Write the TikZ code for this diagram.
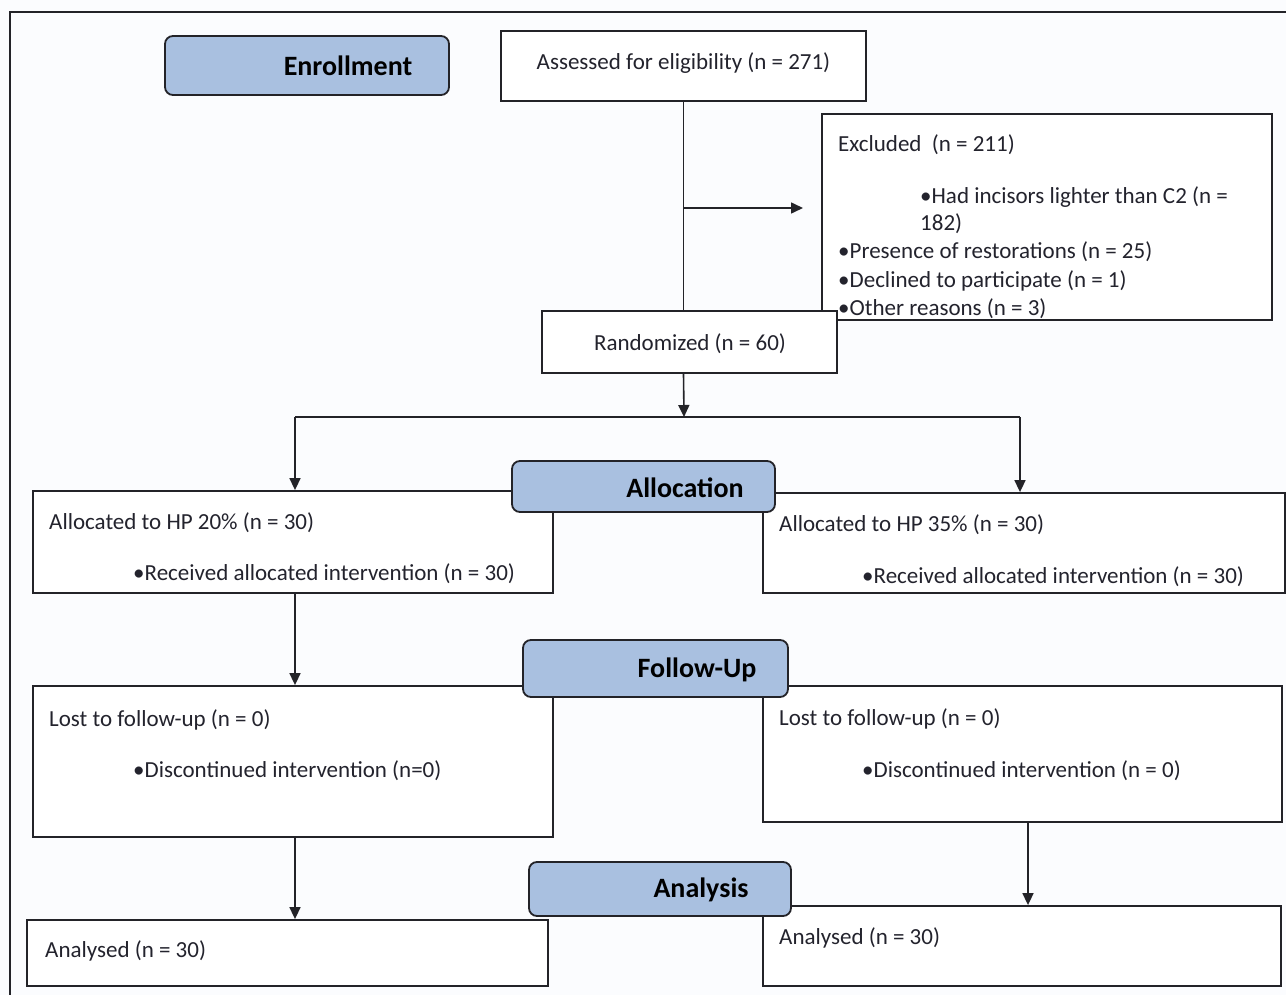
\documentclass[tikz,border=0pt]{standalone}
\usepackage{fontspec}
\setmainfont{Carlito}
\usetikzlibrary{arrows.meta}
\definecolor{hdr}{RGB}{169,192,224}
\definecolor{edge}{RGB}{35,35,40}
\definecolor{bg}{RGB}{251,252,254}
\definecolor{ink}{RGB}{35,35,45}
\begin{document}
\begin{tikzpicture}[x=1pt,y=-1pt,
  box/.style={draw=edge, line width=1.8pt, fill=white, inner sep=0pt},
  hdrbox/.style={draw=edge, line width=1.8pt, fill=hdr, rounded corners=8pt, inner sep=0pt},
  txt/.style={font=\fontsize{23}{27}\selectfont, inner sep=0pt, anchor=west, text=ink},
  ctxt/.style={font=\fontsize{23}{27}\selectfont, inner sep=0pt, text=ink},
  htxt/.style={font=\fontsize{28}{33}\selectfont\bfseries, inner sep=0pt, text=black},
  conn/.style={draw=edge, line width=1.6pt},
  arr/.style={conn, -{Triangle[length=12pt,width=11pt]}}]
\useasboundingbox (0,0) rectangle (1286,995);
\fill[bg] (0,0) rectangle (1286,995);
\draw[edge, line width=1.5pt] (1286,12) -- (10,12) -- (10,995);

% boxes
\node[box, minimum width=365pt, minimum height=70pt] (assess) at (683.5,66) {};
\node[ctxt] (assessT) at (683.5,63) {Assessed for eligibility (n = 271)};
\node[box, minimum width=450pt, minimum height=206pt] (excl) at (1047,217) {};
\node[txt] (ex1) at (838,145) {Excluded~~(n = 211)};
\node[txt] (ex2) at (920,197) {•Had incisors lighter than C2 (n =};
\node[txt] (ex3) at (920,224) {182)};
\node[txt] (ex4) at (838,252) {•Presence of restorations (n = 25)};
\node[txt] (ex5) at (838,281) {•Declined to participate (n = 1)};
\node[txt] (ex6) at (838,309) {•Other reasons (n = 3)};
\node[box, minimum width=295pt, minimum height=62pt] (rand) at (689.5,342) {};
\node[ctxt] (randT) at (690,344) {Randomized (n = 60)};

\node[box, minimum width=520pt, minimum height=102pt] (allocL) at (293,542) {};
\node[txt] (aL1) at (49,523) {Allocated to HP 20\% (n = 30)};
\node[txt] (aL2) at (133,574) {•Received allocated intervention (n = 30)};
\node[box, minimum width=522pt, minimum height=100pt] (allocR) at (1024,543) {};
\node[txt] (aR1) at (779,525) {Allocated to HP 35\% (n = 30)};
\node[txt] (aR2) at (862,577) {•Received allocated intervention (n = 30)};

\node[box, minimum width=520pt, minimum height=151pt] (followL) at (293,761.5) {};
\node[txt] (fL1) at (49,720) {Lost to follow-up (n = 0)};
\node[txt] (fL2) at (133,771) {•Discontinued intervention (n=0)};
\node[box, minimum width=519pt, minimum height=136pt] (followR) at (1022.5,754) {};
\node[txt] (fR1) at (779,719) {Lost to follow-up (n = 0)};
\node[txt] (fR2) at (862,771) {•Discontinued intervention (n = 0)};

\node[box, minimum width=521pt, minimum height=66pt] (anaL) at (287.5,953) {};
\node[txt] (nL1) at (45,951) {Analysed (n = 30)};
\node[box, minimum width=518pt, minimum height=80pt] (anaR) at (1022,946) {};
\node[txt] (nR1) at (779,938) {Analysed (n = 30)};

% connectors
\coordinate (exbr) at (684,208);
\coordinate (extip) at (803,208);
\coordinate (split) at (684,417);
\coordinate (splL) at (295,417);
\coordinate (splR) at (1020,417);
\draw[conn] (assess.south) -- (assess.south |- rand.north);
\draw[arr] (exbr) -- (extip);
\draw[arr] (assess.south |- rand.south) -- (split);
\draw[conn] (splL) -- (splR);
\draw[arr] (splL) -- (splL |- allocL.north);
\draw[arr] (splR) -- (splR |- allocR.north);
\draw[arr] (splL |- allocL.south) -- (splL |- followL.north);
\draw[arr] (splL |- followL.south) -- (splL |- anaL.north);
\draw[arr] ([xshift=5.5pt]followR.south) -- ([xshift=5.5pt]followR.south |- anaR.north);

% headers
\node[hdrbox, minimum width=284pt, minimum height=59pt] (enroll) at (307,65.5) {};
\node[htxt] (enrollT) at (348,66) {Enrollment};
\node[hdrbox, minimum width=263pt, minimum height=51pt] (alloc) at (643.5,486.5) {};
\node[htxt] (allocT) at (685,488) {Allocation};
\node[hdrbox, minimum width=265pt, minimum height=57pt] (follow) at (655.5,668.5) {};
\node[htxt] (followT) at (697,670) {Follow-Up};
\node[hdrbox, minimum width=262pt, minimum height=54pt] (analysis) at (660,889) {};
\node[htxt] (analysisT) at (701,890) {Analysis};
\end{tikzpicture}
\end{document}
